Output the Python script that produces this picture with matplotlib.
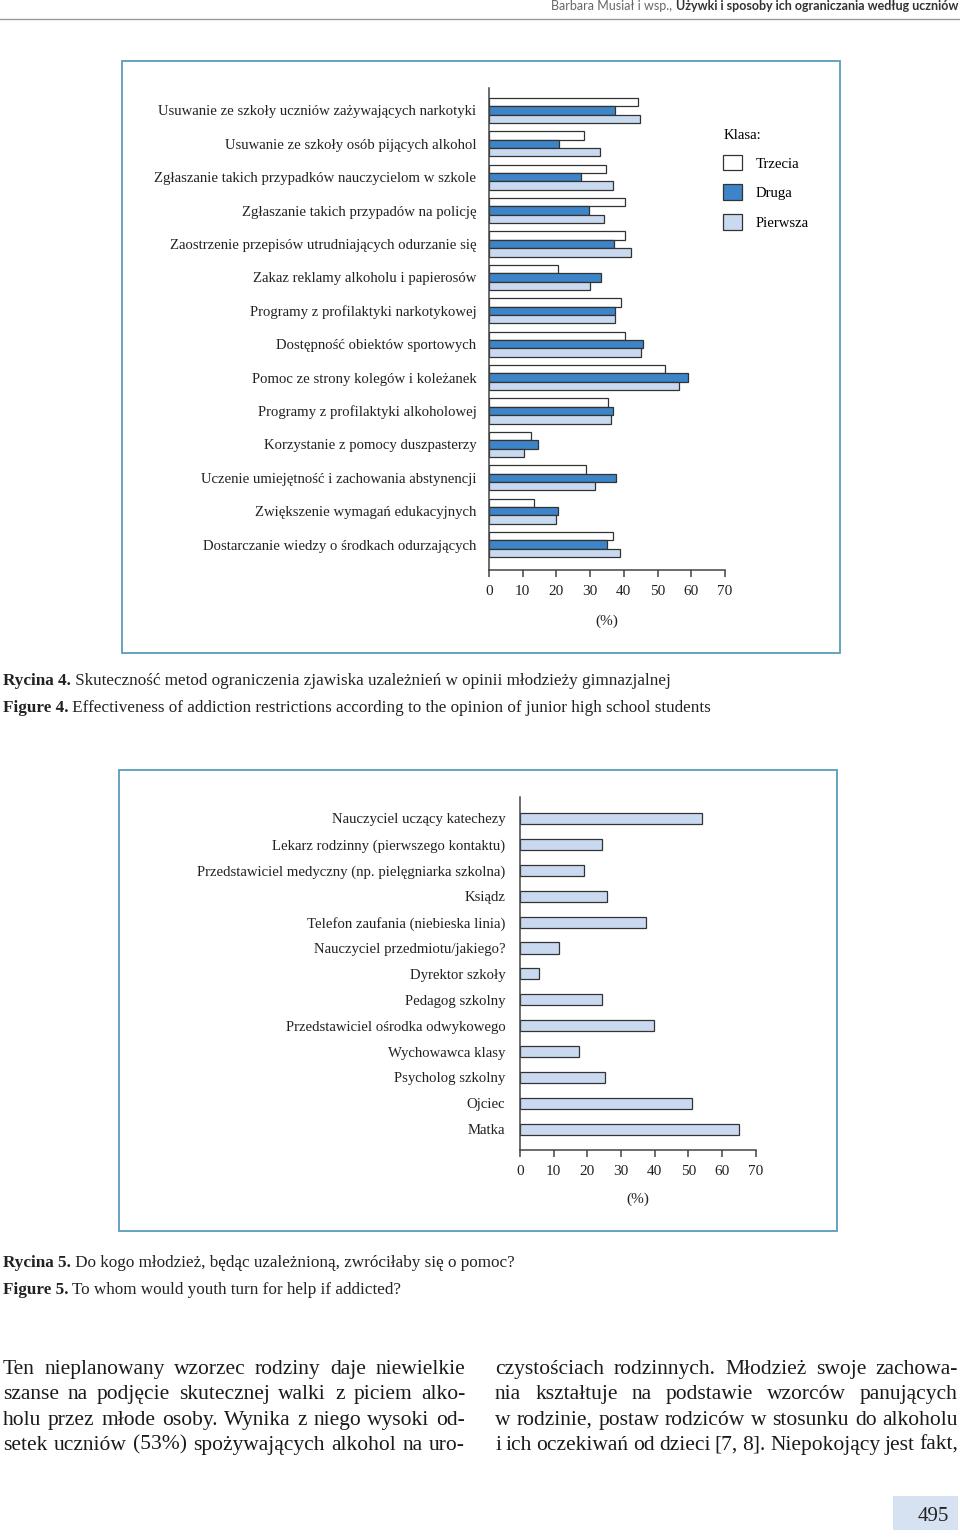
import matplotlib
matplotlib.use('Agg')
from matplotlib import pyplot as plt
from matplotlib.patches import Rectangle, Patch
import numpy as np

W, H = 960, 1539

# rycina 4 - dane
metody = ['Usuwanie ze szkoły uczniów zażywających narkotyki',
          'Usuwanie ze szkoły osób pijących alkohol',
          'Zgłaszanie takich przypadków nauczycielom w szkole',
          'Zgłaszanie takich przypadów na policję',
          'Zaostrzenie przepisów utrudniających odurzanie się',
          'Zakaz reklamy alkoholu i papierosów',
          'Programy z profilaktyki narkotykowej',
          'Dostępność obiektów sportowych',
          'Pomoc ze strony kolegów i koleżanek',
          'Programy z profilaktyki alkoholowej',
          'Korzystanie z pomocy duszpasterzy',
          'Uczenie umiejętność i zachowania abstynencji',
          'Zwiększenie wymagań edukacyjnych',
          'Dostarczanie wiedzy o środkach odurzających']
trzecia = [44.2, 28.3, 34.6, 40.3, 40.3, 20.4, 39.3, 40.4, 52.3, 35.4, 12.5, 28.9, 13.4, 36.9]
druga = [37.3, 20.9, 27.3, 29.6, 37.0, 33.3, 37.4, 45.8, 59.1, 36.9, 14.4, 37.7, 20.5, 35.0]
pierwsza = [44.8, 32.8, 36.7, 34.1, 42.2, 29.9, 37.4, 45.2, 56.4, 36.3, 10.5, 31.4, 20.0, 38.9]

# rycina 5 - dane
osoby = ['Nauczyciel uczący katechezy', 'Lekarz rodzinny (pierwszego kontaktu)',
         'Przedstawiciel medyczny (np. pielęgniarka szkolna)', 'Ksiądz',
         'Telefon zaufania (niebieska linia)', 'Nauczyciel przedmiotu/jakiego?',
         'Dyrektor szkoły', 'Pedagog szkolny', 'Przedstawiciel ośrodka odwykowego',
         'Wychowawca klasy', 'Psycholog szkolny', 'Ojciec', 'Matka']
pomoc = [54.1, 24.4, 19.1, 25.7, 37.5, 11.5, 5.5, 24.3, 39.8, 17.6, 25.2, 51.1, 65.0]

ticks = [0, 10, 20, 30, 40, 50, 60, 70]

lewa_kol = ['Ten nieplanowany wzorzec rodziny daje niewielkie',
            'szanse na podjęcie skutecznej walki z piciem alko-',
            'holu przez młode osoby. Wynika z niego wysoki od-',
            'setek uczniów (53%) spożywających alkohol na uro-']
prawa_kol = ['czystościach rodzinnych. Młodzież swoje zachowa-',
             'nia kształtuje na podstawie wzorców panujących',
             'w rodzinie, postaw rodziców w stosunku do alkoholu',
             'i ich oczekiwań od dzieci [7, 8]. Niepokojący jest fakt,']

SERIF = 'Liberation Serif'
FS = 10.6
BIALY, NIEB, JASNY = 'white', '#3d85c8', '#c9d9ef'
KRAW = '#333333'

fig = plt.figure(figsize=(W / 100, H / 100), dpi=100)
r = fig.canvas.get_renderer()


def pos(x0, y0, x1, y1):
    return [x0 / W, 1 - y1 / H, (x1 - x0) / W, (y1 - y0) / H]


def txt(x, y, s, **kw):
    return fig.text(x / W, 1 - y / H, s, **kw)


def ramka(x0, y0, x1, y1):
    fig.add_artist(Rectangle((x0 / W, 1 - y1 / H), (x1 - x0) / W, (y1 - y0) / H,
                             transform=fig.transFigure, fill=False,
                             edgecolor='#5a9cba', linewidth=1.3))


def styl_osi(ax, pad_y):
    for s in ['top', 'right']:
        ax.spines[s].set_visible(False)
    for s in ['left', 'bottom']:
        ax.spines[s].set_color('#444444')
        ax.spines[s].set_linewidth(1.1)
    ax.set_xlim(0, 70)
    ax.set_xticks(ticks)
    ax.tick_params(axis='x', length=5, width=1.1, color='#444444', pad=6,
                   labelsize=FS + 0.4)
    ax.tick_params(axis='y', length=0, pad=pad_y, labelsize=FS)
    for t in ax.get_xticklabels() + ax.get_yticklabels():
        t.set_fontfamily(SERIF)
        t.set_color('#222222')


def podpis(x, y, czesci, size=12.3):
    for s, w in czesci:
        t = txt(x, y, s, fontsize=size, fontfamily=SERIF, fontweight=w,
                va='baseline', color='#222222')
        x += t.get_window_extent(r).width


def justuj(linia, x0, x1, y, **kw):
    slowa = linia.split()
    tt = [txt(0, y, s, va='baseline', **kw) for s in slowa]
    szer = [t.get_window_extent(r).width for t in tt]
    odstep = (x1 - x0 - sum(szer)) / (len(slowa) - 1)
    x = x0
    for t, w in zip(tt, szer):
        t.set_x(x / W)
        x += w + odstep


# naglowek
b = txt(958, 10, 'Używki i sposoby ich ograniczania według uczniów', fontsize=9,
        fontfamily='Lato', fontweight='bold', ha='right', va='baseline', color='#333333')
bw = b.get_window_extent(r).width
txt(958 - bw, 10, 'Barbara Musiał i wsp., ', fontsize=9, fontfamily='Lato',
    ha='right', va='baseline', color='#666666')
fig.add_artist(plt.Line2D([0, 1], [1 - 18.5 / H, 1 - 18.5 / H], color='#999999',
                          linewidth=1, transform=fig.transFigure))

# rycina 4
ramka(122, 61, 840, 653)
ax1 = fig.add_axes(pos(489, 88, 725, 570))
y = np.arange(len(metody))
h = 0.25
ax1.barh(y - h, trzecia, height=h, color=BIALY, edgecolor=KRAW, linewidth=0.9, label='Trzecia')
ax1.barh(y, druga, height=h, color=NIEB, edgecolor=KRAW, linewidth=0.9, label='Druga')
ax1.barh(y + h, pierwsza, height=h, color=JASNY, edgecolor=KRAW, linewidth=0.9, label='Pierwsza')
ax1.set_yticks(y)
ax1.set_yticklabels(metody)
ax1.set_ylim(13.76, -0.67)
styl_osi(ax1, 9)
ax1.set_xlabel('(%)', fontfamily=SERIF, fontsize=FS + 0.4, labelpad=12, color='#222222')

uchwyty = [Patch(facecolor=c, edgecolor=KRAW, linewidth=0.9) for c in (BIALY, NIEB, JASNY)]
leg = fig.legend(uchwyty, ['Trzecia', 'Druga', 'Pierwsza'], title='Klasa:',
                 loc='upper left', bbox_to_anchor=(713 / W, 1 - 119 / H),
                 frameon=False, prop={'family': SERIF, 'size': FS},
                 handlelength=1.25, handleheight=1.25, handletextpad=0.95,
                 labelspacing=0.94, borderpad=0.2)
leg.get_title().set_fontfamily(SERIF)
leg.get_title().set_fontsize(FS)
leg._legend_box.align = 'left'
leg._legend_box.sep = 9

podpis(3, 685, [('Rycina 4.', 'bold'),
                (' Skuteczność metod ograniczenia zjawiska uzależnień w opinii młodzieży gimnazjalnej', 'normal')])
podpis(3, 712, [('Figure 4.', 'bold'),
                (' Effectiveness of addiction restrictions according to the opinion of junior high school students', 'normal')])

# rycina 5
ramka(119, 770, 837, 1231)
ax2 = fig.add_axes(pos(520, 797, 755.7, 1150))
y2 = np.arange(len(osoby))
ax2.barh(y2, pomoc, height=0.43, color=JASNY, edgecolor=KRAW, linewidth=0.9)
ax2.set_yticks(y2)
ax2.set_yticklabels(osoby)
ax2.set_ylim(12.8, -0.83)
styl_osi(ax2, 10.5)
ax2.set_xlabel('(%)', fontfamily=SERIF, fontsize=FS + 0.4, labelpad=10, color='#222222')

podpis(3, 1267, [('Rycina 5.', 'bold'),
                 (' Do kogo młodzież, będąc uzależnioną, zwróciłaby się o pomoc?', 'normal')])
podpis(3, 1294, [('Figure 5.', 'bold'),
                 (' To whom would youth turn for help if addicted?', 'normal')])

# tekst artykulu
for i, linia in enumerate(lewa_kol):
    justuj(linia, 3, 465, 1374 + i * 25.3, fontsize=15.5, fontfamily=SERIF,
           color='#1a1a1a')
for i, linia in enumerate(prawa_kol):
    justuj(linia, 495, 958, 1374 + i * 25.3, fontsize=15.5, fontfamily=SERIF,
           color='#1a1a1a')

# numer strony
fig.add_artist(Rectangle((893 / W, 1 - 1530 / H), 65 / W, 34 / H,
                         transform=fig.transFigure, facecolor='#d6e1f1', edgecolor='none'))
txt(933, 1521, '495', fontsize=15, fontfamily=SERIF, ha='center', va='baseline',
    color='#222222')

fig.savefig('out.png', dpi=100)
